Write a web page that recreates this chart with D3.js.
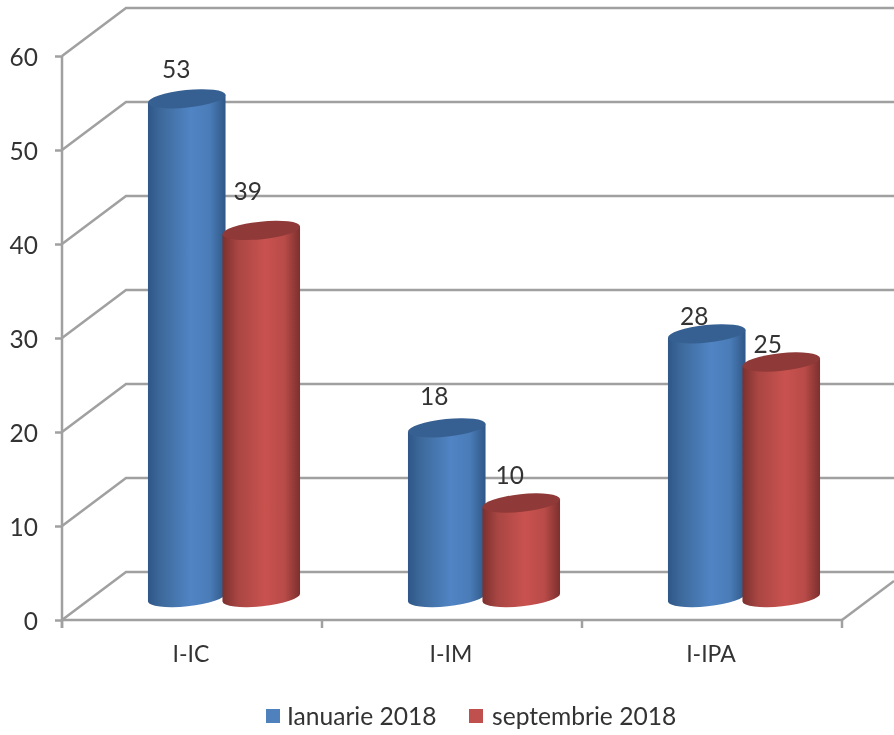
<!DOCTYPE html>
<html>
<head>
<meta charset="utf-8">
<script src="https://cdnjs.cloudflare.com/ajax/libs/d3/7.8.5/d3.min.js"></script>
<style>
html,body{margin:0;padding:0;background:#fff}
svg{display:block;filter:blur(0.45px)}
text{font-family:Lato,"Open Sans",sans-serif;fill:#333}
</style>
</head>
<body>
<svg id="c" width="894" height="735"></svg>
<script>
const categories = ["I-IC", "I-IM", "I-IPA"];
const seriesNames = ["Ianuarie 2018", "septembrie 2018"];
const ianuarie = [53, 18, 28];
const septembrie = [39, 10, 25];
const yTicks = [0, 10, 20, 30, 40, 50, 60];

const svg = d3.select("#c");
const x0 = 62, x1 = 842, yBase = 620, yTop = 56;
const depthX = 64, depthY = 48;
const barLift = 23;
const grid = "#a0a0a0";
const sw = 2.5;
const y = d3.scaleLinear().domain([0, 60]).range([yBase, yTop]);
const x = d3.scaleBand().domain(categories).range([x0, x1]);
const sub = d3.scaleBand().domain(seriesNames).range([-74.5, 74.5]);
const rx = 39, ry = 8.8, tilt = -6;
const tiltRad = tilt * Math.PI / 180;

// gradients
const palettes = [
  {id: "blue", stops: ["#2f5788", "#3f6c9f", "#5084c4", "#4a7cb8", "#2f5786"], top: "#376092", legend: "#4f81bd"},
  {id: "red", stops: ["#7c302e", "#a94643", "#c9524f", "#b84b48", "#7c302e"], top: "#8f3a38", legend: "#c0504d"}
];
const defs = svg.append("defs");
palettes.forEach(p => {
  const g = defs.append("linearGradient").attr("id", p.id).attr("x1", 0).attr("x2", 1).attr("y1", 0).attr("y2", 0);
  [0, 0.2, 0.55, 0.8, 1].forEach((o, i) => g.append("stop").attr("offset", o).attr("stop-color", p.stops[i]));
});

// walls and gridlines
yTicks.forEach(v => {
  const yy = y(v);
  svg.append("path")
    .attr("d", d3.line()([[x0, yy], [x0 + depthX, yy - depthY], [894, yy - depthY]]))
    .attr("fill", "none").attr("stroke", grid).attr("stroke-width", sw);
});
svg.append("line").attr("x1", x0 + 260 * 3).attr("y1", yBase).attr("x2", 894).attr("y2", yBase - depthY * 52 / depthX)
  .attr("stroke", grid).attr("stroke-width", sw);

// axes
const yAxis = d3.axisLeft(y).tickValues(yTicks).tickSize(7).tickPadding(17);
const gy = svg.append("g").attr("transform", `translate(${x0},0)`).call(yAxis);
gy.select(".domain").remove();
gy.selectAll("line").attr("stroke", grid).attr("stroke-width", sw);
gy.selectAll("text").attr("font-size", 24.5).attr("dy", "0.38em").style("font-family", "Lato").style("fill", "#333");
svg.append("line").attr("x1", x0).attr("x2", x0).attr("y1", yTop).attr("y2", yBase + 8)
  .attr("stroke", grid).attr("stroke-width", sw);
svg.append("line").attr("x1", x0).attr("x2", x1).attr("y1", yBase).attr("y2", yBase)
  .attr("stroke", grid).attr("stroke-width", sw);
categories.concat([null]).forEach((c, i) => {
  const xx = x0 + i * x.step();
  svg.append("line").attr("x1", xx).attr("x2", xx).attr("y1", yBase).attr("y2", yBase + 8)
    .attr("stroke", grid).attr("stroke-width", sw);
});
categories.forEach(c => {
  svg.append("text").attr("x", x(c) + x.bandwidth() / 2 - 1).attr("y", 662)
    .attr("text-anchor", "middle").attr("font-size", 23).text(c);
});

// bars
const labelNudge = [[[-11, -29], [-14, -38]], [[-13, -31], [-12, -27]], [[-13, -17], [-14, -17]]];
const series = [ianuarie, septembrie];
const cosT = Math.cos(tiltRad), sinT = Math.sin(tiltRad);
series.forEach((vals, s) => {
  categories.forEach((c, i) => {
    const cx = x(c) + x.bandwidth() / 2 + depthX / 2 + sub(seriesNames[s]) + sub.bandwidth() / 2;
    const yb = y(0) - barLift + 0.5;
    const yt = y(vals[i]) - barLift;
    const lx = rx * cosT, ly = rx * sinT;
    const d = d3.path();
    d.moveTo(cx - lx, yt - ly);
    d.lineTo(cx - lx, yb - ly);
    let str = d.toString() + ` A${rx},${ry} ${tilt} 0 0 ${cx + lx},${yb + ly} L${cx + lx},${yt + ly} Z`;
    svg.append("path").attr("d", str).attr("fill", `url(#${palettes[s].id})`);
    svg.append("ellipse").attr("cx", cx).attr("cy", yt).attr("rx", rx).attr("ry", ry)
      .attr("transform", `rotate(${tilt} ${cx} ${yt})`).attr("fill", palettes[s].top);
  });
});
// data labels
series.forEach((vals, s) => {
  categories.forEach((c, i) => {
    const cx = x(c) + x.bandwidth() / 2 + depthX / 2 + sub(seriesNames[s]) + sub.bandwidth() / 2;
    const yt = y(vals[i]) - barLift;
    svg.append("text").attr("x", cx + labelNudge[i][s][0] + 0.5).attr("y", yt + labelNudge[i][s][1] - 1)
      .attr("dy", "0.36em").attr("text-anchor", "middle").attr("font-size", 24.5).text(vals[i]);
  });
});

// legend
const legendX = [266, 469], legendTextX = [287, 492];
seriesNames.forEach((n, i) => {
  svg.append("rect").attr("x", legendX[i]).attr("y", 709).attr("width", 14).attr("height", 14).attr("fill", palettes[i].legend);
  svg.append("text").attr("x", legendTextX[i]).attr("y", 725).attr("font-size", 24.6).text(n);
});
</script>
</body>
</html>
